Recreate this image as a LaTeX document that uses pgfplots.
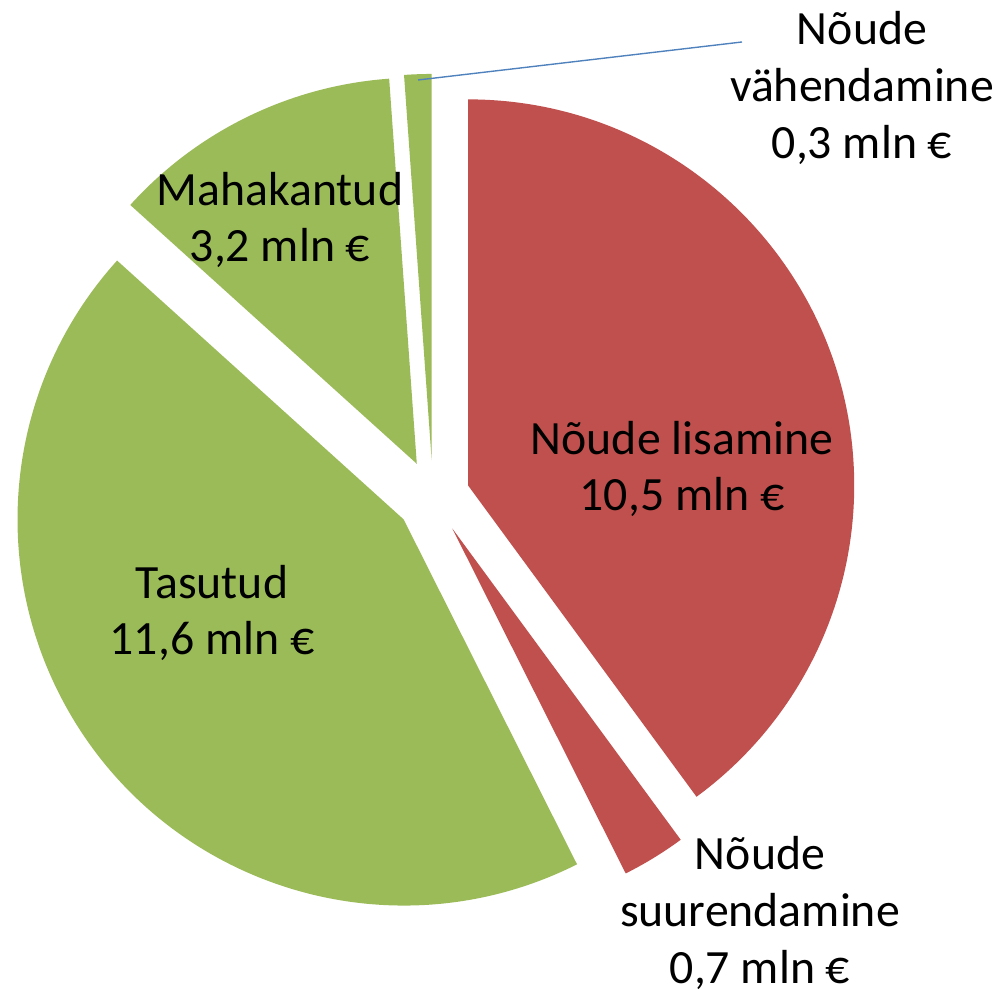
\documentclass[border=0pt]{standalone}
\usepackage{pgfplots}
\pgfplotsset{compat=1.18}
\usepackage{fontspec}
\setmainfont{Carlito}

\definecolor{pieRed}{HTML}{C0504D}
\definecolor{pieGreen}{HTML}{9BBB59}
\definecolor{leader}{HTML}{4F81BD}

% slice values (mln EUR), clockwise from 12 o'clock
\def\vLis{10.5}
\def\vSuu{0.7}
\def\vTas{11.6}
\def\vMah{3.2}
\def\vVah{0.3}

\def\rad{139pt}
\def\explode{13.3pt}

\pgfmathsetmacro\tot{\vLis+\vSuu+\vTas+\vMah+\vVah}
\pgfmathsetmacro\aA{90}
\pgfmathsetmacro\aB{\aA-360*\vLis/\tot}
\pgfmathsetmacro\aC{\aB-360*\vSuu/\tot}
\pgfmathsetmacro\aD{\aC-360*\vTas/\tot}
\pgfmathsetmacro\aE{\aD-360*\vMah/\tot}
\pgfmathsetmacro\aF{\aE-360*\vVah/\tot}

\newcommand\slice[3]{%
  \fill[#3, shift={({(#1+#2)/2}:\explode)}] (0,0) -- (#1:\rad)
    arc[start angle=#1, end angle=#2, radius=\rad] -- cycle;}

\tikzset{lbl/.style={font=\fontsize{17.2}{20.4}\selectfont, align=center, inner sep=0pt}}

\begin{document}
\begin{tikzpicture}
\begin{axis}[
  hide axis,
  x=0.36pt, y=0.36pt,
  y dir=reverse,
  xmin=0, xmax=999, ymin=0, ymax=994,
  clip=false,
]
\coordinate (bl) at (axis cs:0,994);
\coordinate (tr) at (axis cs:999,0);
\begin{scope}[shift={(axis cs:433,497)}]
  \slice{\aA}{\aB}{pieRed}
  \slice{\aB}{\aC}{pieRed}
  \slice{\aC}{\aD}{pieGreen}
  \slice{\aD}{\aE}{pieGreen}
  \slice{\aE}{\aF}{pieGreen}
\end{scope}
\draw[leader, line width=0.5pt] (axis cs:742,42) -- (axis cs:418,80);
\node[lbl] at (axis cs:682,469) {Nõude lisamine\\10,5 mln €};
\node[lbl] at (axis cs:212,613) {Tasutud\\11,6 mln €};
\node[lbl] at (axis cs:280,220) {Mahakantud\\3,2 mln €};
\node[lbl] at (axis cs:862,88) {Nõude\\vähendamine\\0,3 mln €};
\node[lbl] at (axis cs:760,913) {Nõude\\suurendamine\\0,7 mln €};
\end{axis}
\pgfresetboundingbox
\path (bl) rectangle (tr);
\end{tikzpicture}
\end{document}
